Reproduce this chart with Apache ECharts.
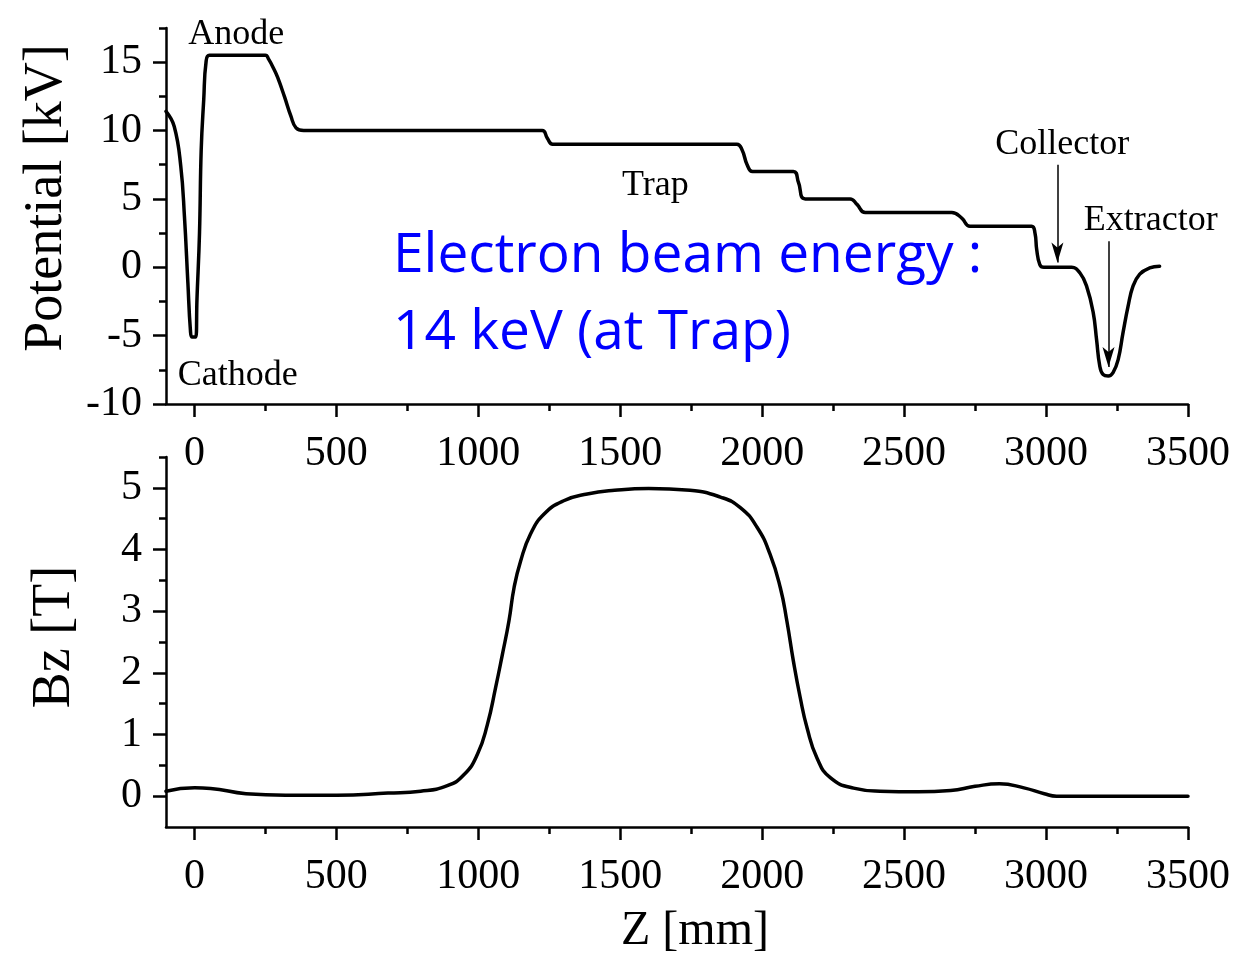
<!DOCTYPE html>
<html>
<head>
<meta charset="utf-8">
<title>Electron beam ion trap: potential and axial field</title>
<script src="https://cdn.jsdelivr.net/npm/echarts@6.0.0/dist/echarts.min.js"></script>
<style>
  html, body { margin: 0; padding: 0; background: #fff; }
  #chart { width: 1239px; height: 970px; }
</style>
</head>
<body>
<div id="chart"></div>
<script>
// Axial position along the beam line [mm] and electrode potential [kV]
const potentialZ = [-100, -71, -48, -35, -23, -14, -8, 5, 9, 18, 24, 33, 41, 53, 250, 262, 280, 293, 317, 340, 358, 385,
  1225, 1243, 1262, 1911, 1929, 1947, 1966, 2110, 2128, 2152, 2310, 2334, 2363, 2668, 2703, 2732, 2949, 2961, 2967, 2978, 2992,
  3090, 3119, 3143, 3166, 3178, 3189, 3201, 3219, 3236, 3254, 3271, 3289, 3306, 3330, 3365, 3400];
const potentialKV = [11.4, 10.3, 7.4, 3.7, -1.1, -4.6, -5.1, -5.1, -2.4, 2.5, 8.6, 12.3, 15.0, 15.5, 15.5, 15.2, 14.5, 13.9, 12.5, 11.05, 10.2, 10.0,
  10.0, 9.45, 9.0, 9.0, 8.6, 7.5, 7.0, 7.0, 6.2, 5.0, 5.0, 4.6, 4.0, 4.0, 3.6, 3.0, 3.0, 2.5, 1.3, 0.2, 0.0,
  0.0, -0.4, -1.4, -3.3, -5.3, -7.2, -7.85, -7.95, -7.7, -6.75, -4.8, -2.85, -1.4, -0.5, -0.05, 0.07];

// Axial position [mm] and on-axis magnetic field Bz [T]
const fieldZ = [-100, 1, 57, 182, 321, 502, 682, 797, 891, 950, 997, 1032, 1061, 1085, 1108, 1126, 1149, 1184, 1231, 1301, 1384, 1480, 1600,
  1746, 1853, 1923, 1982, 2028, 2064, 2087, 2110, 2134, 2158, 2193, 2240, 2322, 2415, 2549, 2664, 2750, 2836, 2922, 2994, 3037, 3500];
const fieldBz = [0.08, 0.135, 0.125, 0.04, 0.016, 0.016, 0.05, 0.08, 0.17, 0.35, 0.68, 1.16, 1.76, 2.3, 2.84, 3.38, 3.81, 4.25, 4.57, 4.79, 4.9, 4.96, 4.99,
  4.96, 4.85, 4.68, 4.36, 3.92, 3.38, 2.84, 2.19, 1.6, 1.11, 0.62, 0.3, 0.13, 0.08, 0.07, 0.09, 0.16, 0.2, 0.135, 0.04, 0.0, 0.0];

// Tick positions
const zMajorTicks = [0, 500, 1000, 1500, 2000, 2500, 3000, 3500];
const zMinorTicks = [250, 750, 1250, 1750, 2250, 2750, 3250];
const kvMajorTicks = [-10, -5, 0, 5, 10, 15];
const kvMinorTicks = [-7.5, -2.5, 2.5, 7.5, 12.5, 17.5];
const bzMajorTicks = [0, 1, 2, 3, 4, 5];
const bzMinorTicks = [0.5, 1.5, 2.5, 3.5, 4.5, 5.5];

// Electrode labels placed at [z, kV]
const electrodeNames = ['Anode', 'Cathode', 'Trap', 'Collector', 'Extractor'];
const electrodeLabelZ = [147, 153, 1624, 3057, 3369];
const electrodeLabelKV = [17.0, -7.95, 6.0, 9.0, 3.4];

// Pointer arrows: z, start kV, end kV
const arrowZ = [3040, 3220];
const arrowFromKV = [7.5, 1.9];
const arrowToKV = [0.35, -7.3];

const note = ['Electron beam energy :', '14 keV (at Trap)'];

const SERIF = 'Liberation Serif';
const INK = '#000';
const plain = v => String(v);

function majorX(grid, name) {
  return {
    type: 'value', gridIndex: grid, position: 'bottom', min: -100, max: 3500,
    name: name || '', nameLocation: 'middle', nameGap: 80,
    nameTextStyle: { fontFamily: SERIF, fontSize: 48, color: INK, padding: [0, 0, 0, 36] },
    axisLine: { onZero: false, lineStyle: { color: INK, width: 2.5 } },
    axisTick: { customValues: zMajorTicks, length: 13, lineStyle: { color: INK, width: 2.5 } },
    axisLabel: { customValues: zMajorTicks, formatter: plain, margin: 29, fontFamily: SERIF, fontSize: 42, color: INK },
    splitLine: { show: false }
  };
}
function minorX(grid) {
  return {
    type: 'value', gridIndex: grid, position: 'bottom', min: -100, max: 3500,
    axisLine: { show: false, onZero: false },
    axisTick: { customValues: zMinorTicks, length: 7, lineStyle: { color: INK, width: 2.5 } },
    axisLabel: { show: false }, splitLine: { show: false }
  };
}
function majorY(grid, min, max, ticks, name, gap, pad) {
  return {
    type: 'value', gridIndex: grid, position: 'left', min: min, max: max,
    name: name, nameLocation: 'middle', nameGap: gap,
    nameTextStyle: { fontFamily: SERIF, fontSize: 54, color: INK, padding: pad },
    axisLine: { onZero: false, lineStyle: { color: INK, width: 2.5 } },
    axisTick: { customValues: ticks, length: 13, lineStyle: { color: INK, width: 2.5 } },
    axisLabel: { customValues: ticks, formatter: plain, margin: 24, fontFamily: SERIF, fontSize: 42, color: INK },
    splitLine: { show: false }
  };
}
function minorY(grid, min, max, ticks) {
  return {
    type: 'value', gridIndex: grid, position: 'left', min: min, max: max,
    axisLine: { show: false, onZero: false },
    axisTick: { customValues: ticks, length: 7, lineStyle: { color: INK, width: 2.5 } },
    axisLabel: { show: false }, splitLine: { show: false }
  };
}

const chart = echarts.init(document.getElementById('chart'), null, { renderer: 'canvas' });

const option = {
  backgroundColor: '#fff',
  animation: false,
  grid: [
    { left: 166, right: 51, top: 28, height: 376 },
    { left: 166, right: 51, top: 457, height: 370 }
  ],
  xAxis: [majorX(0), minorX(0), majorX(1, 'Z [mm]'), minorX(1)],
  yAxis: [
    majorY(0, -10, 17.5, kvMajorTicks, 'Potential [kV]', 92, [0, 0, 0, 36]),
    minorY(0, -10, 17.5, kvMinorTicks),
    majorY(1, -0.5, 5.5, bzMajorTicks, 'Bz [T]', 84, [0, 0, 0, 10]),
    minorY(1, -0.5, 5.5, bzMinorTicks)
  ],
  series: [
    {
      name: 'Potential', type: 'line', xAxisIndex: 0, yAxisIndex: 0,
      data: potentialZ.map((z, i) => [z, potentialKV[i]]),
      showSymbol: false, smooth: 0.45,
      lineStyle: { color: INK, width: 3.5, join: 'round', cap: 'round' },
      markLine: {
        silent: true, symbol: ['none', 'arrow'], symbolSize: [9, 20],
        lineStyle: { color: INK, width: 1.5, type: 'solid' },
        label: { show: false },
        data: arrowZ.map((z, i) => [{ coord: [z, arrowFromKV[i]] }, { coord: [z, arrowToKV[i]] }])
      }
    },
    {
      name: 'Bz', type: 'line', xAxisIndex: 2, yAxisIndex: 2,
      data: fieldZ.map((z, i) => [z, fieldBz[i]]),
      showSymbol: false, smooth: 0.5,
      lineStyle: { color: INK, width: 3.5, join: 'round', cap: 'round' }
    }
  ]
};
chart.setOption(option);

// Text annotations anchored to data coordinates of the potential plot
const labels = electrodeNames.map((t, i) => {
  const p = chart.convertToPixel({ gridIndex: 0 }, [electrodeLabelZ[i], electrodeLabelKV[i]]);
  return {
    type: 'text', x: p[0], y: p[1], silent: true,
    style: { text: t, fill: INK, font: '36px "Liberation Serif"', textAlign: 'center', textVerticalAlign: 'middle' }
  };
});
const noteLines = note.map((t, i) => ({
  type: 'text', x: 393, y: 256 + i * 77, silent: true,
  style: { text: t, fill: '#0000ff', font: '55px "Open Sans"', textAlign: 'left', textVerticalAlign: 'middle' }
}));
chart.setOption({ graphic: labels.concat(noteLines) });
</script>
</body>
</html>
